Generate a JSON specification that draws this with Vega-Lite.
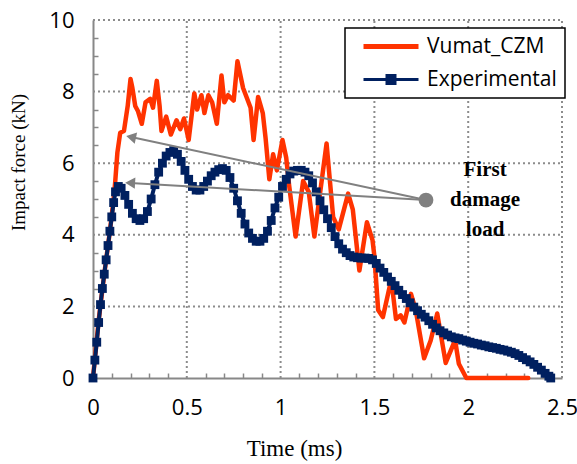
{
  "$schema": "https://vega.github.io/schema/vega-lite/v6.json",
  "width": 469,
  "height": 358,
  "autosize": {"type": "none"},
  "padding": {"left": 93, "top": 20, "right": 15, "bottom": 86},
  "config": {
    "view": {"stroke": null},
    "axis": {"labelFont": "Open Sans", "titleFont": "Liberation Serif", "titleFontWeight": "normal", "labelColor": "#000", "titleColor": "#000"}
  },
  "datasets": {
    "curves": [
      {"series":"Vumat_CZM","time":0,"force":0},{"series":"Vumat_CZM","time":0.03,"force":1.6},{"series":"Vumat_CZM","time":0.06,"force":2.9},{"series":"Vumat_CZM","time":0.09,"force":4.1},{"series":"Vumat_CZM","time":0.11,"force":5.0},{"series":"Vumat_CZM","time":0.118,"force":5.45},{"series":"Vumat_CZM","time":0.13,"force":6.3},{"series":"Vumat_CZM","time":0.145,"force":6.85},{"series":"Vumat_CZM","time":0.165,"force":6.9},{"series":"Vumat_CZM","time":0.185,"force":7.6},{"series":"Vumat_CZM","time":0.2,"force":8.35},{"series":"Vumat_CZM","time":0.21,"force":8.1},{"series":"Vumat_CZM","time":0.225,"force":7.6},{"series":"Vumat_CZM","time":0.24,"force":7.45},{"series":"Vumat_CZM","time":0.26,"force":7.1},{"series":"Vumat_CZM","time":0.28,"force":7.7},{"series":"Vumat_CZM","time":0.305,"force":7.8},{"series":"Vumat_CZM","time":0.32,"force":7.55},{"series":"Vumat_CZM","time":0.34,"force":8.3},{"series":"Vumat_CZM","time":0.355,"force":7.6},{"series":"Vumat_CZM","time":0.365,"force":6.9},{"series":"Vumat_CZM","time":0.39,"force":7.3},{"series":"Vumat_CZM","time":0.415,"force":6.8},{"series":"Vumat_CZM","time":0.445,"force":7.2},{"series":"Vumat_CZM","time":0.465,"force":6.95},{"series":"Vumat_CZM","time":0.485,"force":7.25},{"series":"Vumat_CZM","time":0.51,"force":6.65},{"series":"Vumat_CZM","time":0.54,"force":7.95},{"series":"Vumat_CZM","time":0.555,"force":7.5},{"series":"Vumat_CZM","time":0.578,"force":7.9},{"series":"Vumat_CZM","time":0.594,"force":7.4},{"series":"Vumat_CZM","time":0.615,"force":7.9},{"series":"Vumat_CZM","time":0.635,"force":7.7},{"series":"Vumat_CZM","time":0.66,"force":7.1},{"series":"Vumat_CZM","time":0.685,"force":8.45},{"series":"Vumat_CZM","time":0.7,"force":7.7},{"series":"Vumat_CZM","time":0.72,"force":7.9},{"series":"Vumat_CZM","time":0.75,"force":7.75},{"series":"Vumat_CZM","time":0.77,"force":8.85},{"series":"Vumat_CZM","time":0.8,"force":8.1},{"series":"Vumat_CZM","time":0.84,"force":7.55},{"series":"Vumat_CZM","time":0.856,"force":6.65},{"series":"Vumat_CZM","time":0.88,"force":7.85},{"series":"Vumat_CZM","time":0.905,"force":7.4},{"series":"Vumat_CZM","time":0.92,"force":6.7},{"series":"Vumat_CZM","time":0.94,"force":5.55},{"series":"Vumat_CZM","time":0.96,"force":6.25},{"series":"Vumat_CZM","time":0.98,"force":5.8},{"series":"Vumat_CZM","time":1.01,"force":6.65},{"series":"Vumat_CZM","time":1.03,"force":6.15},{"series":"Vumat_CZM","time":1.045,"force":5.4},{"series":"Vumat_CZM","time":1.08,"force":3.95},{"series":"Vumat_CZM","time":1.12,"force":5.5},{"series":"Vumat_CZM","time":1.15,"force":5.2},{"series":"Vumat_CZM","time":1.18,"force":3.95},{"series":"Vumat_CZM","time":1.245,"force":6.55},{"series":"Vumat_CZM","time":1.28,"force":4.5},{"series":"Vumat_CZM","time":1.31,"force":4.15},{"series":"Vumat_CZM","time":1.36,"force":5.15},{"series":"Vumat_CZM","time":1.385,"force":4.7},{"series":"Vumat_CZM","time":1.42,"force":3.0},{"series":"Vumat_CZM","time":1.46,"force":4.35},{"series":"Vumat_CZM","time":1.49,"force":3.85},{"series":"Vumat_CZM","time":1.5,"force":3.4},{"series":"Vumat_CZM","time":1.52,"force":1.9},{"series":"Vumat_CZM","time":1.545,"force":1.7},{"series":"Vumat_CZM","time":1.59,"force":2.75},{"series":"Vumat_CZM","time":1.615,"force":1.65},{"series":"Vumat_CZM","time":1.64,"force":1.75},{"series":"Vumat_CZM","time":1.66,"force":1.55},{"series":"Vumat_CZM","time":1.695,"force":2.35},{"series":"Vumat_CZM","time":1.72,"force":1.9},{"series":"Vumat_CZM","time":1.765,"force":0.55},{"series":"Vumat_CZM","time":1.8,"force":1.05},{"series":"Vumat_CZM","time":1.835,"force":1.8},{"series":"Vumat_CZM","time":1.88,"force":0.42},{"series":"Vumat_CZM","time":1.93,"force":1.06},{"series":"Vumat_CZM","time":1.95,"force":0.4},{"series":"Vumat_CZM","time":1.99,"force":0.0},{"series":"Vumat_CZM","time":2.32,"force":0.0},
      {"series":"Experimental","time":0,"force":0},{"series":"Experimental","time":0.01,"force":0.5},{"series":"Experimental","time":0.02,"force":1.0},{"series":"Experimental","time":0.03,"force":1.55},{"series":"Experimental","time":0.04,"force":2.05},{"series":"Experimental","time":0.05,"force":2.5},{"series":"Experimental","time":0.06,"force":2.9},{"series":"Experimental","time":0.07,"force":3.3},{"series":"Experimental","time":0.08,"force":3.7},{"series":"Experimental","time":0.09,"force":4.1},{"series":"Experimental","time":0.1,"force":4.5},{"series":"Experimental","time":0.11,"force":4.9},{"series":"Experimental","time":0.12,"force":5.2},{"series":"Experimental","time":0.135,"force":5.35},{"series":"Experimental","time":0.15,"force":5.3},{"series":"Experimental","time":0.17,"force":5.1},{"series":"Experimental","time":0.19,"force":4.85},{"series":"Experimental","time":0.21,"force":4.6},{"series":"Experimental","time":0.23,"force":4.45},{"series":"Experimental","time":0.25,"force":4.4},{"series":"Experimental","time":0.27,"force":4.45},{"series":"Experimental","time":0.29,"force":4.65},{"series":"Experimental","time":0.31,"force":5.0},{"series":"Experimental","time":0.33,"force":5.4},{"series":"Experimental","time":0.35,"force":5.75},{"series":"Experimental","time":0.37,"force":6.0},{"series":"Experimental","time":0.39,"force":6.2},{"series":"Experimental","time":0.41,"force":6.3},{"series":"Experimental","time":0.43,"force":6.35},{"series":"Experimental","time":0.45,"force":6.25},{"series":"Experimental","time":0.47,"force":6.05},{"series":"Experimental","time":0.49,"force":5.8},{"series":"Experimental","time":0.51,"force":5.55},{"series":"Experimental","time":0.53,"force":5.35},{"series":"Experimental","time":0.55,"force":5.25},{"series":"Experimental","time":0.57,"force":5.25},{"series":"Experimental","time":0.59,"force":5.35},{"series":"Experimental","time":0.61,"force":5.5},{"series":"Experimental","time":0.63,"force":5.65},{"series":"Experimental","time":0.65,"force":5.75},{"series":"Experimental","time":0.67,"force":5.82},{"series":"Experimental","time":0.69,"force":5.85},{"series":"Experimental","time":0.71,"force":5.8},{"series":"Experimental","time":0.73,"force":5.6},{"series":"Experimental","time":0.75,"force":5.3},{"series":"Experimental","time":0.77,"force":4.95},{"series":"Experimental","time":0.79,"force":4.6},{"series":"Experimental","time":0.81,"force":4.3},{"series":"Experimental","time":0.83,"force":4.05},{"series":"Experimental","time":0.85,"force":3.9},{"series":"Experimental","time":0.87,"force":3.82},{"series":"Experimental","time":0.89,"force":3.82},{"series":"Experimental","time":0.91,"force":3.9},{"series":"Experimental","time":0.93,"force":4.1},{"series":"Experimental","time":0.95,"force":4.4},{"series":"Experimental","time":0.97,"force":4.75},{"series":"Experimental","time":0.99,"force":5.05},{"series":"Experimental","time":1.01,"force":5.35},{"series":"Experimental","time":1.03,"force":5.55},{"series":"Experimental","time":1.05,"force":5.7},{"series":"Experimental","time":1.07,"force":5.78},{"series":"Experimental","time":1.09,"force":5.8},{"series":"Experimental","time":1.11,"force":5.8},{"series":"Experimental","time":1.13,"force":5.75},{"series":"Experimental","time":1.15,"force":5.65},{"series":"Experimental","time":1.17,"force":5.45},{"series":"Experimental","time":1.19,"force":5.2},{"series":"Experimental","time":1.21,"force":4.95},{"series":"Experimental","time":1.23,"force":4.7},{"series":"Experimental","time":1.25,"force":4.45},{"series":"Experimental","time":1.27,"force":4.2},{"series":"Experimental","time":1.29,"force":3.95},{"series":"Experimental","time":1.31,"force":3.75},{"series":"Experimental","time":1.33,"force":3.6},{"series":"Experimental","time":1.35,"force":3.5},{"series":"Experimental","time":1.37,"force":3.42},{"series":"Experimental","time":1.39,"force":3.38},{"series":"Experimental","time":1.41,"force":3.36},{"series":"Experimental","time":1.43,"force":3.35},{"series":"Experimental","time":1.45,"force":3.35},{"series":"Experimental","time":1.47,"force":3.34},{"series":"Experimental","time":1.49,"force":3.3},{"series":"Experimental","time":1.51,"force":3.2},{"series":"Experimental","time":1.53,"force":3.07},{"series":"Experimental","time":1.55,"force":2.95},{"series":"Experimental","time":1.57,"force":2.82},{"series":"Experimental","time":1.59,"force":2.7},{"series":"Experimental","time":1.61,"force":2.58},{"series":"Experimental","time":1.63,"force":2.45},{"series":"Experimental","time":1.65,"force":2.33},{"series":"Experimental","time":1.67,"force":2.22},{"series":"Experimental","time":1.69,"force":2.1},{"series":"Experimental","time":1.71,"force":1.98},{"series":"Experimental","time":1.73,"force":1.88},{"series":"Experimental","time":1.75,"force":1.78},{"series":"Experimental","time":1.77,"force":1.7},{"series":"Experimental","time":1.79,"force":1.6},{"series":"Experimental","time":1.81,"force":1.5},{"series":"Experimental","time":1.83,"force":1.4},{"series":"Experimental","time":1.85,"force":1.32},{"series":"Experimental","time":1.87,"force":1.26},{"series":"Experimental","time":1.89,"force":1.2},{"series":"Experimental","time":1.91,"force":1.15},{"series":"Experimental","time":1.93,"force":1.12},{"series":"Experimental","time":1.95,"force":1.1},{"series":"Experimental","time":1.97,"force":1.06},{"series":"Experimental","time":1.99,"force":1.03},{"series":"Experimental","time":2.01,"force":1.0},{"series":"Experimental","time":2.03,"force":0.97},{"series":"Experimental","time":2.05,"force":0.95},{"series":"Experimental","time":2.07,"force":0.92},{"series":"Experimental","time":2.09,"force":0.9},{"series":"Experimental","time":2.11,"force":0.87},{"series":"Experimental","time":2.13,"force":0.85},{"series":"Experimental","time":2.15,"force":0.83},{"series":"Experimental","time":2.17,"force":0.8},{"series":"Experimental","time":2.19,"force":0.78},{"series":"Experimental","time":2.21,"force":0.75},{"series":"Experimental","time":2.23,"force":0.72},{"series":"Experimental","time":2.25,"force":0.68},{"series":"Experimental","time":2.27,"force":0.63},{"series":"Experimental","time":2.29,"force":0.57},{"series":"Experimental","time":2.31,"force":0.51},{"series":"Experimental","time":2.33,"force":0.45},{"series":"Experimental","time":2.35,"force":0.38},{"series":"Experimental","time":2.37,"force":0.3},{"series":"Experimental","time":2.39,"force":0.22},{"series":"Experimental","time":2.41,"force":0.13},{"series":"Experimental","time":2.43,"force":0.05},{"series":"Experimental","time":2.44,"force":0.0}
    ],
    "gridlines": [
      {"time":0.5,"force":0,"time2":0.5,"force2":10},{"time":1,"force":0,"time2":1,"force2":10},{"time":1.5,"force":0,"time2":1.5,"force2":10},{"time":2,"force":0,"time2":2,"force2":10},{"time":2.5,"force":0,"time2":2.5,"force2":10},
      {"time":0,"force":2,"time2":2.5,"force2":2},{"time":0,"force":4,"time2":2.5,"force2":4},{"time":0,"force":6,"time2":2.5,"force2":6},{"time":0,"force":8,"time2":2.5,"force2":8},{"time":0,"force":10,"time2":2.5,"force2":10}
    ],
    "arrows": [
      {"id":"a1","time":1.775,"force":4.97,"time2":0.203,"force2":6.73},
      {"id":"a2","time":1.775,"force":4.97,"time2":0.198,"force2":5.45}
    ],
    "heads": [
      {"id":"a1","time":0.203,"force":6.73},
      {"id":"a2","time":0.198,"force":5.45}
    ],
    "note": [
      {"time":2.09,"force":5.81,"label":"First\ndamage\nload"}
    ]
  },
  "encoding": {
    "x": {"field": "time", "type": "quantitative", "scale": {"domain": [0, 2.5], "nice": false},
      "axis": {"orient": "bottom", "title": "Time (ms)",
        "values": [0,0.1,0.2,0.3,0.4,0.5,0.6,0.7,0.8,0.9,1,1.1,1.2,1.3,1.4,1.5,1.6,1.7,1.8,1.9,2,2.1,2.2,2.3,2.4,2.5],
        "format": "~f", "labelExpr": "round(datum.value*10) % 5 === 0 ? datum.label : ''", "labelOverlap": false,
        "ticks": true, "tickSize": -5, "tickColor": "#888888", "tickWidth": 1.5,
        "tickOpacity": {"condition": {"test": "round(datum.value*10) % 5 === 0", "value": 0}, "value": 1},
        "labelFontSize": 22, "labelPadding": 24, "domainColor": "#888888", "domainWidth": 2, "grid": false,
        "titleFontSize": 23, "titleFontWeight": "normal", "titleX": 201, "titleY": 77, "titleBaseline": "alphabetic", "labelFlush": false}},
    "y": {"field": "force", "type": "quantitative", "scale": {"domain": [0, 10], "nice": false},
      "axis": {"orient": "left", "title": "Impact force (kN)",
        "values": [0,0.5,1,1.5,2,2.5,3,3.5,4,4.5,5,5.5,6,6.5,7,7.5,8,8.5,9,9.5,10],
        "format": "~f", "labelExpr": "round(datum.value*2) % 4 === 0 ? datum.label : ''", "labelOverlap": false,
        "ticks": true, "tickSize": -5, "tickColor": "#888888", "tickWidth": 1.5,
        "tickOpacity": {"condition": {"test": "round(datum.value*2) % 4 === 0", "value": 0}, "value": 1},
        "labelFontSize": 22, "labelPadding": 24, "domainColor": "#888888", "domainWidth": 2, "grid": false,
        "titleFontSize": 19, "titleFontWeight": "normal", "titleX": -75, "titleY": 142, "titleBaseline": "middle", "labelFlush": false}}
  },
  "layer": [
    {
      "data": {"name": "gridlines"},
      "mark": {"type": "rule", "color": "#8c8c8c", "strokeWidth": 2, "strokeDash": [2, 3]},
      "encoding": {"x2": {"field": "time2"}, "y2": {"field": "force2"}}
    },
    {
      "data": {"name": "curves"},
      "transform": [{"filter": "datum.series === 'Vumat_CZM'"}],
      "mark": {"type": "line", "strokeWidth": 4.5, "strokeJoin": "round", "strokeCap": "round"},
      "encoding": {
        "color": {"field": "series", "type": "nominal",
          "scale": {"domain": ["Vumat_CZM", "Experimental"], "range": ["#FF3300", "#002060"]},
          "legend": {"title": null, "orient": "none", "legendX": 252, "legendY": 8,
            "fillColor": "white", "strokeColor": "black", "padding": 8,
            "labelFont": "Open Sans", "labelFontSize": 21, "labelColor": "#000", "labelOffset": 53,
            "symbolSize": 100, "rowPadding": 11, "symbolType": "M0,0H11",
            "encode": {
              "legend": {"update": {"strokeWidth": {"value": 1.5}}},
              "symbols": {"update": {
              "shape": {"signal": "datum.value === 'Vumat_CZM' ? 'M0,0H11' : 'M0,0H11M4.7,-0.8H6.3V0.8H4.7Z'"},
              "strokeWidth": {"signal": "datum.value === 'Vumat_CZM' ? 5 : 3"},
              "fill": {"signal": "datum.value === 'Vumat_CZM' ? 'transparent' : '#002060'"},
              "stroke": {"signal": "datum.value === 'Vumat_CZM' ? '#FF3300' : '#002060'"},
              "opacity": {"value": 1}
            }}}}
        }
      }
    },
    {
      "data": {"name": "curves"},
      "transform": [{"filter": "datum.series === 'Experimental'"}],
      "mark": {"type": "line", "strokeWidth": 4},
      "encoding": {"color": {"field": "series", "type": "nominal"}}
    },
    {
      "data": {"name": "curves"},
      "transform": [{"filter": "datum.series === 'Experimental'"}],
      "mark": {"type": "point", "shape": "square", "filled": true, "size": 78, "opacity": 1},
      "encoding": {"color": {"field": "series", "type": "nominal"}}
    },
    {
      "data": {"name": "arrows"},
      "mark": {"type": "rule", "color": "#808080", "strokeWidth": 2},
      "encoding": {"x2": {"field": "time2"}, "y2": {"field": "force2"}}
    },
    {
      "data": {"name": "heads"},
      "transform": [{"filter": "datum.id === 'a1'"}],
      "mark": {"type": "point", "shape": "triangle-left", "filled": true, "size": 130, "color": "#808080", "opacity": 1, "angle": 12},
      "encoding": {}
    },
    {
      "data": {"name": "heads"},
      "transform": [{"filter": "datum.id === 'a2'"}],
      "mark": {"type": "point", "shape": "triangle-left", "filled": true, "size": 130, "color": "#808080", "opacity": 1, "angle": 3},
      "encoding": {}
    },
    {
      "data": {"name": "arrows"},
      "transform": [{"filter": "datum.id === 'a1'"}],
      "mark": {"type": "point", "shape": "circle", "filled": true, "size": 220, "color": "#808080", "opacity": 1},
      "encoding": {}
    },
    {
      "data": {"name": "note"},
      "mark": {"type": "text", "font": "Liberation Serif", "fontWeight": "bold", "fontSize": 21, "lineBreak": "\n", "lineHeight": 30, "align": "center", "baseline": "middle", "color": "#000"},
      "encoding": {"text": {"field": "label"}}
    }
  ]
}
